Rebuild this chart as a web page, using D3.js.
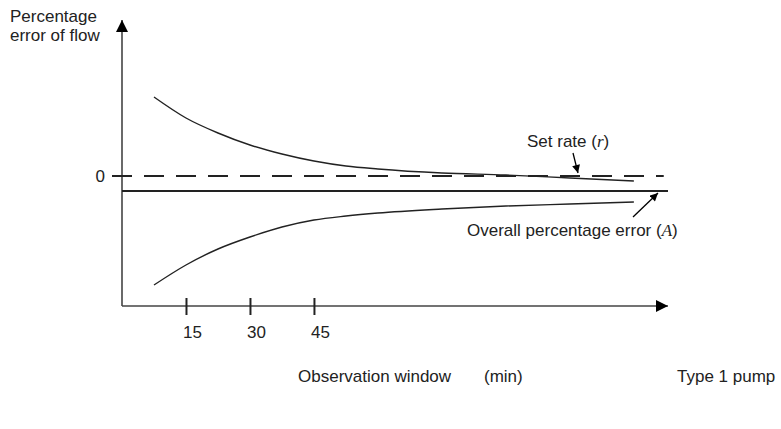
<!DOCTYPE html>
<html><head><meta charset="utf-8">
<script src="https://cdn.jsdelivr.net/npm/d3@7"></script>
<style>
body{margin:0;background:#fff;}
text{font-family:"Liberation Sans",Arial,sans-serif;fill:#222;}
</style></head>
<body><svg id="c" width="781" height="429"></svg>
<script>
// Observation window (min)
const minutes = [7.5, 15, 22.5, 30, 37.5, 45, 52.5, 60, 75, 90, 105, 120];
// Upper and lower trumpet bounds (percentage error of flow, arbitrary units)
const upperErr = [7.9, 5.8, 4.3, 3.1, 2.2, 1.5, 1.0, 0.7, 0.3, 0.1, -0.2, -0.5];
const lowerErr = [-10.9, -8.9, -7.3, -6.1, -5.1, -4.4, -4.0, -3.7, -3.3, -3.0, -2.8, -2.6];
const overallErr = -1.5;   // Overall percentage error (A)
const setRate = 0;         // Set rate (r)
const xTicks = [15, 30, 45];
const yTickLabels = ["0"];

const svg = d3.select("#c");
const x = d3.scaleLinear().domain([0, 128]).range([122, 668]);
const y = d3.scaleLinear().domain([-13.0, 15.6]).range([306, 20]);
const ink = "#222";

// arrowheads
const defs = svg.append("defs");
defs.append("marker").attr("id","ah").attr("viewBox","0 0 10 10").attr("refX",10).attr("refY",5)
  .attr("markerWidth",16).attr("markerHeight",12).attr("markerUnits","userSpaceOnUse")
  .attr("orient","auto").append("path").attr("d","M0,0L10,5L0,10Z").attr("fill","#000");
defs.append("marker").attr("id","sa").attr("viewBox","0 0 10 10").attr("refX",10).attr("refY",5)
  .attr("markerWidth",9).attr("markerHeight",8).attr("markerUnits","userSpaceOnUse")
  .attr("orient","auto").append("path").attr("d","M0,0L10,5L0,10Z").attr("fill","#000");

// axes
svg.append("line").attr("x1",x(0)).attr("y1",y.range()[0]).attr("x2",x(0)).attr("y2",y.range()[1])
  .attr("stroke","#444").attr("stroke-width",1.6).attr("marker-end","url(#ah)");
svg.append("line").attr("x1",x(0)).attr("y1",y.range()[0]).attr("x2",x.range()[1]).attr("y2",y.range()[0])
  .attr("stroke","#444").attr("stroke-width",1.6).attr("marker-end","url(#ah)");

// x ticks via d3 axis
const xAxis = d3.axisBottom(x).tickValues(xTicks).tickSize(0).tickPadding(0);
const gx = svg.append("g").attr("transform",`translate(0,${y.range()[0]})`).call(xAxis);
gx.select(".domain").remove();
gx.selectAll(".tick line").remove();
gx.selectAll(".tick").append("line").attr("y1",-8).attr("y2",9).attr("stroke",ink).attr("stroke-width",2);
gx.selectAll(".tick text").attr("dy",null).attr("y",32).attr("x",6)
  .style("font-size","17px").style("font-family","'Liberation Sans',Arial,sans-serif").attr("fill",ink);

// y label 0
svg.append("text").attr("x",x(0)-17).attr("y",y(setRate)+6).attr("text-anchor","end")
  .style("font-size","17px").text(yTickLabels[0]);

// set rate dashed line
svg.append("line").attr("x1",x(0)-10).attr("x2",x(127)).attr("y1",y(setRate)).attr("y2",y(setRate))
  .attr("stroke",ink).attr("stroke-width",2).attr("stroke-dasharray","20,12");
// overall error solid line
svg.append("line").attr("x1",x(0)).attr("x2",x(128)).attr("y1",y(overallErr)).attr("y2",y(overallErr))
  .attr("stroke",ink).attr("stroke-width",1.8);

// trumpet curves
const line = d3.line().x((d,i)=>x(minutes[i])).y(d=>y(d)).curve(d3.curveMonotoneX);
svg.append("path").datum(upperErr).attr("d",line).attr("fill","none").attr("stroke",ink).attr("stroke-width",1.4);
svg.append("path").datum(lowerErr).attr("d",line).attr("fill","none").attr("stroke",ink).attr("stroke-width",1.4);

// annotations
svg.append("text").attr("x",527).attr("y",147).style("font-size","17px")
  .html('Set rate (<tspan font-style="italic" font-family="Liberation Serif, serif">r</tspan>)');
svg.append("line").attr("x1",573).attr("y1",153).attr("x2",578).attr("y2",173)
  .attr("stroke","#000").attr("stroke-width",1.3).attr("marker-end","url(#sa)");
svg.append("text").attr("x",467).attr("y",236).style("font-size","17px")
  .html('Overall percentage error (<tspan font-style="italic" font-family="Liberation Serif, serif">A</tspan>)');
svg.append("line").attr("x1",633).attr("y1",217).attr("x2",658).attr("y2",193)
  .attr("stroke","#000").attr("stroke-width",1.3).attr("marker-end","url(#sa)");

// axis titles
const yl = svg.append("text").attr("x",10).attr("y",22).style("font-size","17px");
yl.append("tspan").attr("x",10).text("Percentage");
yl.append("tspan").attr("x",10).attr("dy",19).text("error of flow");
svg.append("text").attr("x",298).attr("y",382).style("font-size","17px").text("Observation window");
svg.append("text").attr("x",484).attr("y",382).style("font-size","17px").text("(min)");
svg.append("text").attr("x",677).attr("y",382).style("font-size","17px").text("Type 1 pump");
</script></body></html>
